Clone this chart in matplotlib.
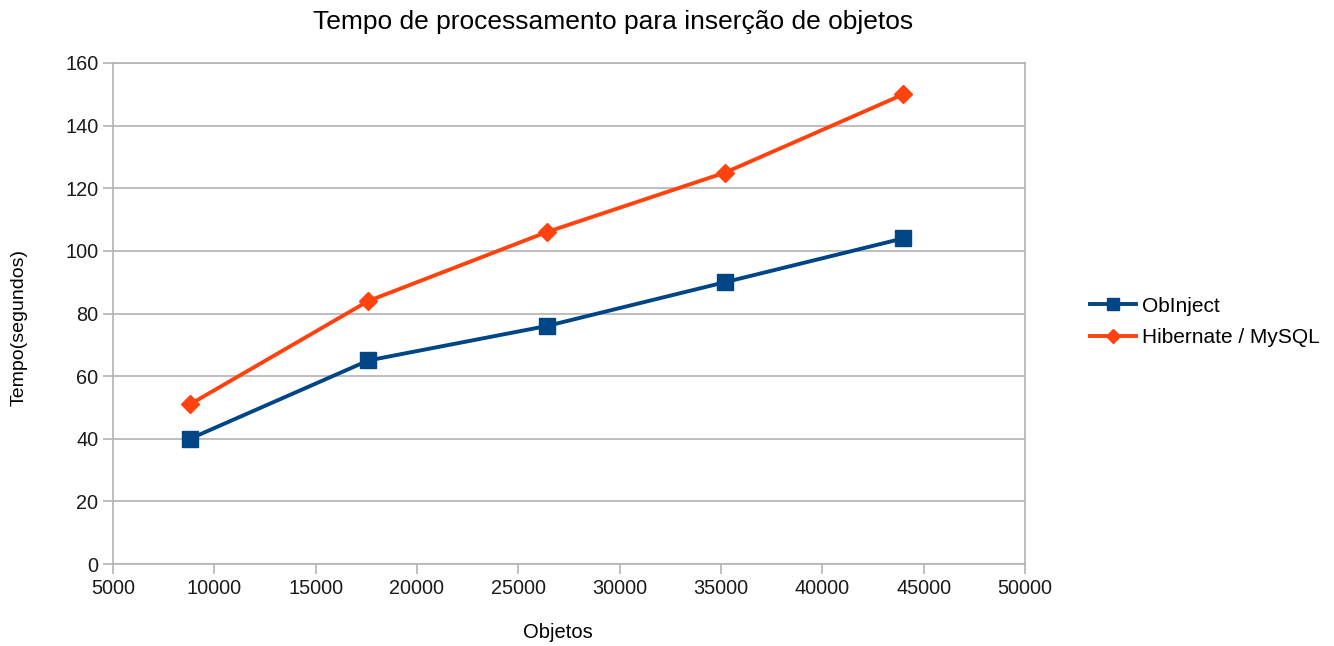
import matplotlib
matplotlib.use("Agg")
import matplotlib.pyplot as plt

# data
objetos = [8800, 17600, 26400, 35200, 44000]
obinject = [40, 65, 76, 90, 104]
hibernate = [51, 84, 106, 125, 150]

plt.rcParams['font.family'] = ['Liberation Sans', 'DejaVu Sans']

grid_col = '#b3b3b3'
blue = '#004586'
orange = '#ff420e'

fig = plt.figure(figsize=(13.34, 6.46), dpi=100)
ax = fig.add_axes([113 / 1334, 82 / 646, 912 / 1334, 501 / 646])

ax.plot(objetos, obinject, color=blue, lw=2.8, marker='s', markersize=11,
        label='ObInject')
ax.plot(objetos, hibernate, color=orange, lw=2.8, marker='D', markersize=9,
        label='Hibernate / MySQL')

ax.set_xlim(5000, 50000)
ax.set_ylim(0, 160)
ax.set_xticks(range(5000, 50001, 5000))
ax.set_yticks(range(0, 161, 20))
ax.grid(axis='y', color=grid_col, lw=1.2)
ax.set_axisbelow(True)
for s in ax.spines.values():
    s.set_color(grid_col)
    s.set_linewidth(1.2)
ax.tick_params(colors=grid_col, length=7, width=1.2, labelcolor='#1a1a1a',
               labelsize=14.3)
ax.tick_params(axis='x', pad=4)

fig.text(613 / 1334, 1 - 22 / 646, 'Tempo de processamento para inserção de objetos',
         ha='center', va='center', fontsize=19)
fig.text(558 / 1334, 1 - 633 / 646, 'Objetos', ha='center', va='center',
         fontsize=14.5)
fig.text(19 / 1334, 1 - 327 / 646, 'Tempo(segundos)', ha='center', va='center',
         rotation=90, fontsize=14)

leg = fig.legend(loc='center left', bbox_to_anchor=(1082 / 1334, 1 - 322 / 646),
                 frameon=False, fontsize=15, handlelength=2.2, handletextpad=0.3,
                 labelspacing=0.6, borderaxespad=0, markerscale=0.8)

fig.savefig('out.png', dpi=100)
